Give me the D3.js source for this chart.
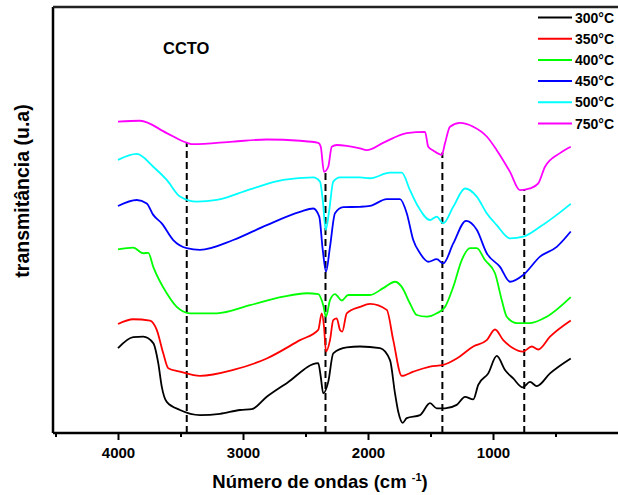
<!DOCTYPE html>
<html>
<head>
<meta charset="utf-8">
<script src="https://d3js.org/d3.v7.min.js"></script>
<style>
  body { margin: 0; background: white; }
  svg { display: block; font-family: "Liberation Sans", Arial, sans-serif; }
</style>
</head>
<body>
<div id="chart"></div>
<script>

// FTIR spectra of CCTO, [wavenumber cm-1, transmittance a.u.]
const s300 = [[4000,19.9],[3878,22.5],[3798,22.6],[3718,21.1],[3678,16.4],[3650,10.9],[3610,7.3],[3504,5.4],[3344,4.2],[3184,4.5],[3024,5.4],[2930,5.6],[2810,8.5],[2650,11.7],[2398,16.4],[2378,13.2],[2358,9.3],[2318,12.0],[2278,18.7],[2170,20.1],[2064,20.3],[1904,19.9],[1824,17.1],[1784,9.3],[1758,5.0],[1722,2.4],[1690,3.5],[1584,4.2],[1504,7.0],[1450,5.8],[1384,5.8],[1290,6.6],[1224,8.5],[1158,7.9],[1118,11.3],[1038,14.0],[970,18.1],[904,14.8],[838,12.8],[762,10.7],[704,12.0],[650,11.0],[544,14.0],[378,17.5]]
const s350 = [[4000,25.6],[3878,26.7],[3744,26.4],[3690,24.2],[3638,18.7],[3598,15.2],[3504,14.4],[3344,13.4],[3078,14.8],[2810,17.5],[2544,21.8],[2398,24.2],[2370,28.1],[2352,25.0],[2336,19.1],[2304,21.8],[2278,26.5],[2250,26.9],[2224,24.2],[2206,23.8],[2170,28.1],[2064,29.6],[1984,30.3],[1850,28.9],[1798,21.8],[1730,13.4],[1638,14.4],[1504,15.6],[1398,16.0],[1290,17.5],[1158,20.3],[1050,21.8],[984,24.3],[918,21.8],[838,19.9],[762,19.1],[690,20.3],[638,19.6],[544,22.6],[378,26.4]]
const s400 = [[4000,43.1],[3878,43.5],[3798,42.2],[3758,42.3],[3718,39.0],[3610,32.8],[3530,29.6],[3424,28.1],[3210,28.1],[2944,30.0],[2678,32.0],[2490,32.8],[2398,32.6],[2358,30.0],[2336,27.3],[2304,31.2],[2264,32.6],[2210,31.1],[2158,32.4],[1984,32.4],[1878,34.0],[1784,35.5],[1730,34.3],[1664,30.4],[1610,27.7],[1530,27.3],[1450,28.1],[1384,29.6],[1318,34.3],[1250,40.6],[1184,43.4],[1130,43.4],[1064,40.6],[984,37.5],[930,31.2],[890,27.3],[810,25.8],[704,25.8],[570,27.3],[378,31.9]]
const s450 = [[4000,53.3],[3850,54.7],[3770,53.9],[3718,51.2],[3650,49.2],[3558,45.3],[3450,43.4],[3344,43.0],[3078,45.3],[2810,48.8],[2544,51.9],[2438,52.7],[2390,50.8],[2362,43.0],[2336,37.9],[2304,43.7],[2264,51.6],[2198,53.0],[2064,53.1],[1984,53.3],[1850,54.9],[1744,54.9],[1690,51.6],[1638,45.3],[1584,42.2],[1518,40.2],[1450,40.8],[1398,39.8],[1318,44.5],[1216,49.8],[1130,47.7],[1050,42.2],[944,39.0],[864,35.5],[758,37.1],[624,41.4],[490,43.7],[378,47.3]]
const s500 = [[4000,64.1],[3850,65.5],[3718,62.5],[3610,59.4],[3504,55.5],[3370,54.3],[3210,54.7],[2944,57.2],[2678,59.4],[2438,60.0],[2384,59.0],[2362,54.7],[2338,47.7],[2310,52.3],[2278,59.0],[2224,60.0],[2064,60.0],[1984,59.8],[1824,61.1],[1730,61.1],[1664,57.0],[1598,53.1],[1504,50.0],[1450,50.8],[1398,49.2],[1318,53.1],[1224,57.4],[1130,55.5],[1050,51.6],[970,48.8],[864,45.7],[758,46.1],[624,48.4],[490,51.2],[378,53.8]]
const s750 = [[4000,73.1],[3824,73.3],[3610,70.4],[3446,68.1],[3400,67.8],[3080,68.4],[2810,68.9],[2544,68.6],[2398,68.1],[2378,67.2],[2352,61.3],[2318,62.5],[2290,67.2],[2250,67.6],[2170,67.4],[2064,66.8],[2010,66.4],[1880,68.1],[1690,70.4],[1544,70.7],[1518,67.2],[1478,66.3],[1410,65.3],[1384,68.0],[1344,71.9],[1264,72.8],[1158,71.9],[1050,69.6],[970,66.4],[864,61.3],[784,57.0],[704,57.4],[638,58.6],[584,62.5],[464,65.7],[378,67.2]]

const seriesNames = ["300°C", "350°C", "400°C", "450°C", "500°C", "750°C"]
const seriesData = [s300, s350, s400, s450, s500, s750]
const seriesColors = ["#000000", "#ff0000", "#00ff00", "#0000ff", "#00ffff", "#ff00ff"]

// band positions marked with dashed lines (cm-1)
const bands = [3450, 2340, 1405, 750]

const majorTicks = [4000, 3000, 2000, 1000]
const minorTicks = [4500, 3500, 2500, 1500, 500]

const WIDTH = 618
const HEIGHT = 495
const LEFT = 53
const TOP = 7
const BOTTOM = 433

const svg = d3.select("#chart").append("svg")
    .attr("width", WIDTH)
    .attr("height", HEIGHT)

const x = d3.scaleLinear().domain([4520, 0]).range([LEFT, WIDTH])
const y = d3.scaleLinear().domain([0, 100]).range([BOTTOM, TOP])

// dashed band markers, from the axis up to the 750°C curve
function topCurveAt(wn) {
    let d = s750
    for (let i = 0; i < d.length - 1; i++) {
        if (wn <= d[i][0] && wn >= d[i + 1][0]) {
            let t = (d[i][0] - wn) / (d[i][0] - d[i + 1][0])
            return d[i][1] + t * (d[i + 1][1] - d[i][1])
        }
    }
    return d[d.length - 1][1]
}

svg.append("g").selectAll("line")
    .data(bands)
    .join("line")
    .attr("x1", d => x(d))
    .attr("x2", d => x(d))
    .attr("y1", y(0))
    .attr("y2", d => y(topCurveAt(d)))
    .attr("stroke", "#000")
    .attr("stroke-width", 2)
    .attr("stroke-dasharray", "7,4")

// spectra
const line = d3.line()
    .x(d => x(d[0]))
    .y(d => y(d[1]))
    .curve(d3.curveMonotoneX)

svg.append("g").selectAll("path")
    .data(seriesData)
    .join("path")
    .attr("d", line)
    .attr("fill", "none")
    .attr("stroke", (d, i) => seriesColors[i])
    .attr("stroke-width", 1.8)
    .attr("stroke-linejoin", "round")

// frame: left axis, top line
svg.append("line")
    .attr("x1", LEFT).attr("x2", LEFT)
    .attr("y1", TOP).attr("y2", BOTTOM)
    .attr("stroke", "#000").attr("stroke-width", 2.5)
svg.append("line")
    .attr("x1", LEFT).attr("x2", WIDTH)
    .attr("y1", TOP).attr("y2", TOP)
    .attr("stroke", "#222").attr("stroke-width", 2.5)

// bottom axis
const xAxis = svg.append("g")
    .attr("transform", "translate(0," + BOTTOM + ")")
    .call(d3.axisBottom(x).tickValues(majorTicks).tickSize(7).tickPadding(7).tickFormat(d3.format("d")))
xAxis.select(".domain").attr("stroke-width", 2.5).attr("d", "M" + LEFT + ",0H" + WIDTH)
xAxis.selectAll(".tick line").attr("stroke-width", 2)
xAxis.selectAll(".tick text")
    .attr("font-size", 15)
    .attr("font-weight", "bold")
    .attr("font-family", "Liberation Sans, Arial, sans-serif")

const xMinor = svg.append("g")
    .attr("transform", "translate(0," + BOTTOM + ")")
    .call(d3.axisBottom(x).tickValues(minorTicks).tickSize(4).tickFormat(""))
xMinor.select(".domain").remove()
xMinor.selectAll(".tick line").attr("stroke-width", 2)

// axis titles
const xTitle = svg.append("text")
    .attr("x", 320)
    .attr("y", 488)
    .attr("text-anchor", "middle")
    .attr("font-size", 18.5)
    .attr("font-weight", "bold")
xTitle.append("tspan").text("Número de ondas (cm ")
xTitle.append("tspan").attr("font-size", 11).attr("dy", -7).text("-1")
xTitle.append("tspan").attr("dy", 7).text(")")

svg.append("text")
    .attr("transform", "translate(29,191) rotate(-90)")
    .attr("text-anchor", "middle")
    .attr("font-size", 19.5)
    .attr("font-weight", "bold")
    .text("transmitância (u.a)")

// sample label
svg.append("text")
    .attr("x", 163)
    .attr("y", 54)
    .attr("font-size", 16.5)
    .attr("font-weight", "bold")
    .text("CCTO")

// legend
const legend = svg.append("g")
    .selectAll("g")
    .data(seriesNames)
    .join("g")
    .attr("transform", (d, i) => "translate(538," + (17.5 + i * 21.2) + ")")

legend.append("line")
    .attr("x1", 0).attr("x2", 34)
    .attr("stroke", (d, i) => seriesColors[i])
    .attr("stroke-width", 2)

legend.append("text")
    .attr("x", 37)
    .attr("y", 5)
    .attr("font-size", 14)
    .attr("font-weight", "bold")
    .text(d => d)

</script>
</body>
</html>
